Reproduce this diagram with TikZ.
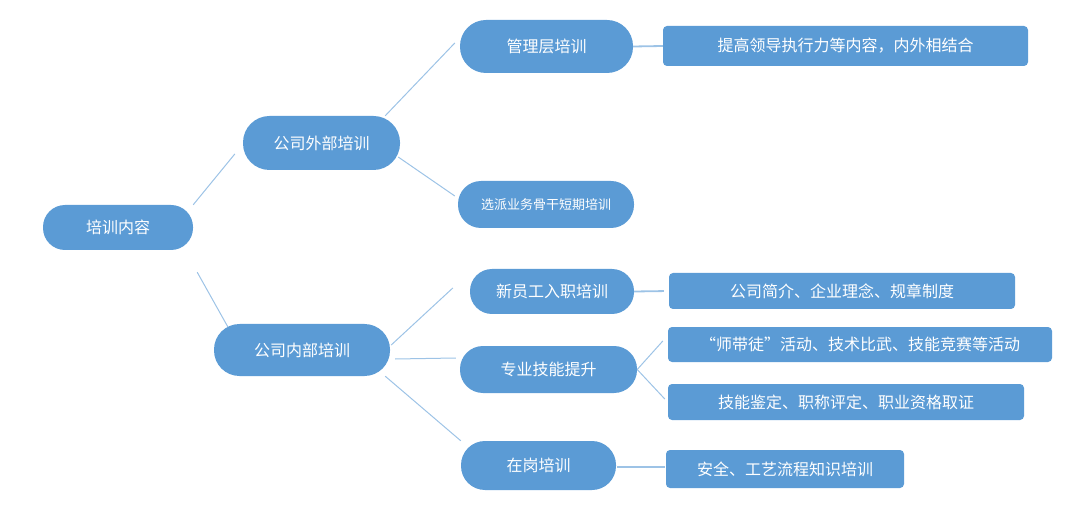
\documentclass[tikz,border=0pt]{standalone}
\usepackage{fontspec}
\usepackage{tikz}
\usetikzlibrary{positioning,calc}
\newfontfamily\cjk{Noto Sans CJK SC}
\definecolor{nodeblue}{RGB}{91,155,213}
\definecolor{lineblue}{RGB}{157,195,230}
\tikzset{
  pill/.style={
    rectangle, fill=nodeblue, rounded corners=#1, text=white,
    inner sep=0pt, align=center, font=\cjk\fontsize{16}{19}\selectfont
  },
  pill/.default=22pt,
  dbox/.style={
    rectangle, fill=nodeblue, rounded corners=4pt, text=white,
    inner sep=0pt, align=center, font=\cjk\fontsize{16}{19}\selectfont
  },
  link/.style={draw=lineblue, line width=1pt},
  hlink/.style={draw=lineblue, line width=1.8pt}
}
\begin{document}
\begin{tikzpicture}[x=1pt,y=-1pt]
    \useasboundingbox (0,0) rectangle (1086,510);
    % Knoten
    \node[pill=22pt, minimum width=150pt, minimum height=45pt] (root)  at (118,227.5) {培训内容};
    \node[pill=26.5pt, minimum width=157pt, minimum height=54pt] (ext)   at (321.5,143) {公司外部培训};
    \node[pill=25.5pt, minimum width=176pt, minimum height=52pt] (int)   at (302,350)   {公司内部培训};
    \node[pill=26pt, minimum width=173pt, minimum height=53pt] (mgmt)  at (546.5,46.5) {管理层培训};
    \node[pill=23pt, minimum width=176pt, minimum height=47pt,
          font=\cjk\fontsize{13}{15}\selectfont]             (sel)   at (546,204.5) {选派业务骨干短期培训};
    \node[pill=22pt, minimum width=164pt, minimum height=45pt] (new)   at (552,291.5) {新员工入职培训};
    \node[pill=23pt, minimum width=177pt, minimum height=47pt] (skill) at (548.5,369.5) {专业技能提升};
    \node[pill=24pt, minimum width=155pt, minimum height=49pt] (onjob) at (538.5,465.5) {在岗培训};
    \node[dbox, minimum width=365pt, minimum height=40pt] (d1) at (845.5,46) {提高领导执行力等内容，内外相结合};
    \node[dbox, minimum width=346pt, minimum height=36pt] (d2) at (842,291)  {公司简介、企业理念、规章制度};
    \node[dbox, minimum width=384pt, minimum height=35pt] (d3) at (860,344.5) {“师带徒”活动、技术比武、技能竞赛等活动};
    \node[dbox, minimum width=356pt, minimum height=36pt] (d4) at (846,402)  {技能鉴定、职称评定、职业资格取证};
    \node[dbox, minimum width=238pt, minimum height=38pt] (d5) at (785,469)  {安全、工艺流程知识培训};
    % Verbindungen
    \draw[link] (root.north east) -- ([shift={(-8,11)}]ext.west);
    \draw[link] ([shift={(4,22)}]root.south east) -- ([shift={(14,3)}]int.north west);
    \draw[link] ([shift={(-15,0)}]ext.north east) -- ([shift={(-5,-3.5)}]mgmt.west);
    \draw[link] ([shift={(-2,14)}]ext.east) -- ([shift={(-3,-8.5)}]sel.west);
    \draw[link] ([shift={(1,-5)}]int.east) -- ([shift={(-17,-3.5)}]new.west);
    \draw[link] ([shift={(5,9)}]int.east) -- ([shift={(-4,-11.5)}]skill.west);
    \draw[link] ([shift={(-5,0)}]int.south east) -- (onjob.north west);
    \draw[hlink] (mgmt.east) -- (d1.west);
    \draw[hlink, shorten >=5pt] (new.east) -- (d2.west);
    \draw[link] (skill.east) -- ([shift={(-5,-3.5)}]d3.west);
    \draw[link] (skill.east) -- ([shift={(-3,-3)}]d4.west);
    \draw[hlink] ([shift={(1,1.5)}]onjob.east) -- ([shift={(-1,-2)}]d5.west);
\end{tikzpicture}
\end{document}
